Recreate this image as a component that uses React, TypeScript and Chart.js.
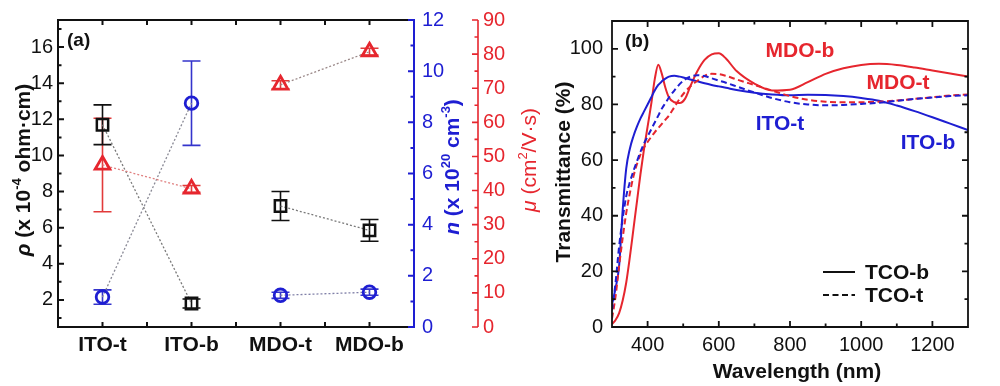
import React, { useEffect, useRef } from 'react';
import { Chart, registerables } from 'chart.js';
Chart.register(...registerables);

const FONT = "'Liberation Sans', Arial, Helvetica, sans-serif";
const BLUE = '#1e1ed2';
const RED = '#e6262e';

// ---------- Panel (a) data ----------
const categories = ['ITO-t', 'ITO-b', 'MDO-t', 'MDO-b'];
const resistivity = [11.7, 1.8, 7.2, 5.85];
const resistivityErr = [1.1, 0.25, 0.8, 0.6];
const carrierConc = [1.17, 8.75, 1.24, 1.36];
const carrierConcErr = [0.28, 1.65, 0.12, 0.12];
const mobility = [47.5, 40.5, 71, 80.7];
const mobilityErr = [13.7, 1.0, 1.2, 1.0];
const rhoTicks = [2, 4, 6, 8, 10, 12, 14, 16];
const nTicks = [0, 2, 4, 6, 8, 10, 12];
const muTicks = [0, 10, 20, 30, 40, 50, 60, 70, 80, 90];

// ---------- Panel (b) data ----------
const wavelengths = [300, 310, 320, 330, 340, 350, 360, 370, 380, 390, 400, 410, 420, 430, 440, 450, 460, 475, 490, 505, 520, 540, 560, 580, 600, 620, 650, 700, 750, 800, 850, 900, 950, 1000, 1050, 1100, 1150, 1200, 1250, 1300];
const itoB = [8, 14, 22, 42, 57, 64, 68.5, 72, 75, 77.5, 80, 82.5, 85, 87, 88.3, 89.3, 90, 90.3, 90, 89.5, 89, 88.3, 87.6, 87, 86.5, 86, 85.2, 84.2, 83.6, 83.3, 83.5, 83.4, 83, 82.3, 81.3, 79.6, 77.6, 75.4, 73.1, 70.8];
const mdoB = [1, 2.5, 5, 9.5, 16, 25, 35, 45, 55, 64, 72, 80, 89, 94.3, 91, 86, 82.5, 80.8, 80.5, 82, 86.5, 92, 96, 98, 98.4, 96.5, 92, 87.5, 85, 85.3, 88, 91, 93, 94.2, 94.6, 94.2, 93.3, 92.2, 91.1, 90];
const itoT = [6, 16, 29, 39, 47, 52, 56, 59.5, 63, 66, 68.5, 71, 73.5, 76, 78.5, 80.5, 82.5, 85, 87.3, 89, 90, 90.5, 90.2, 89.4, 88.6, 87.8, 86.5, 84.3, 82.3, 80.8, 80, 79.7, 79.8, 80.2, 80.6, 81.3, 82, 82.5, 83, 83.3];
const mdoT = [3, 11, 22, 32, 41, 48, 54, 58.5, 62, 64.5, 66.5, 68.3, 70, 71.5, 73, 74.5, 76, 79, 82, 84.5, 86.5, 88.5, 90.3, 91, 90.9, 90.3, 89, 87, 85, 83, 81.7, 81, 80.8, 80.8, 81, 81.4, 82, 82.6, 83.2, 83.6];
const wlTicks = [400, 600, 800, 1000, 1200];
const tTicks = [0, 20, 40, 60, 80, 100];

type Part = { t: string; sup?: boolean; italic?: boolean };

function drawRich(ctx: CanvasRenderingContext2D, parts: Part[], cx: number, cy: number, size: number, weight: string, color: string, rotate: boolean) {
  ctx.save();
  ctx.translate(cx, cy);
  if (rotate) ctx.rotate(-Math.PI / 2);
  const fontFor = (p: Part) => `${p.italic ? 'italic ' : ''}${weight} ${p.sup ? Math.round(size * 0.62) : size}px ${FONT}`;
  let total = 0;
  const widths = parts.map((p) => {
    ctx.font = fontFor(p);
    const w = ctx.measureText(p.t).width;
    total += w;
    return w;
  });
  let x = -total / 2;
  const base = size * 0.36;
  ctx.fillStyle = color;
  ctx.textBaseline = 'alphabetic';
  ctx.textAlign = 'left';
  parts.forEach((p, i) => {
    ctx.font = fontFor(p);
    ctx.fillText(p.t, x, p.sup ? base - size * 0.42 : base);
    x += widths[i];
  });
  ctx.restore();
}

function seg(ctx: CanvasRenderingContext2D, x1: number, y1: number, x2: number, y2: number) {
  ctx.moveTo(x1, y1);
  ctx.lineTo(x2, y2);
}

const panelAPlugin = {
  id: 'panelA',
  beforeDatasetsDraw(chart: any) {
    const ctx: CanvasRenderingContext2D = chart.ctx;
    const sx = chart.scales.x;
    const sets = [
      { v: mobility, e: mobilityErr, axis: 'yMu', color: '#e23a3a' },
      { v: carrierConc, e: carrierConcErr, axis: 'yN', color: '#3434cc' },
      { v: resistivity, e: resistivityErr, axis: 'y', color: '#111' },
    ];
    ctx.save();
    ctx.lineWidth = 1.6;
    sets.forEach((s) => {
      const sc = chart.scales[s.axis];
      ctx.strokeStyle = s.color;
      ctx.beginPath();
      s.v.forEach((v, i) => {
        const x = sx.getPixelForValue(i);
        const y1 = sc.getPixelForValue(v - s.e[i]);
        const y2 = sc.getPixelForValue(v + s.e[i]);
        seg(ctx, x, y1, x, y2);
        seg(ctx, x - 9, y1, x + 9, y1);
        seg(ctx, x - 9, y2, x + 9, y2);
      });
      ctx.stroke();
    });
    ctx.restore();
  },
  afterDraw(chart: any) {
    const ctx: CanvasRenderingContext2D = chart.ctx;
    const { left, right, top, bottom } = chart.chartArea;
    const sx = chart.scales.x;
    const sy = chart.scales.y;
    const sn = chart.scales.yN;
    const sm = chart.scales.yMu;
    ctx.save();
    ctx.lineCap = 'butt';
    ctx.strokeStyle = '#111';
    ctx.lineWidth = 2;
    ctx.beginPath();
    seg(ctx, left, bottom, left, top);
    seg(ctx, left - 1, top, right, top);
    seg(ctx, left - 1, bottom, right, bottom);
    for (let v = 1; v <= 17; v++) {
      const y = sy.getPixelForValue(v);
      seg(ctx, left, y, left + (v % 2 === 0 ? 6 : 3.5), y);
    }
    for (let i = 0; i < categories.length; i++) {
      const x = sx.getPixelForValue(i);
      seg(ctx, x, bottom, x, bottom - 5);
      seg(ctx, x, top, x, top + 5);
      if (i < categories.length - 1) {
        const xm = (x + sx.getPixelForValue(i + 1)) / 2;
        seg(ctx, xm, bottom, xm, bottom - 5);
        seg(ctx, xm, top, xm, top + 5);
      }
    }
    ctx.stroke();
    ctx.strokeStyle = BLUE;
    ctx.lineWidth = 2;
    ctx.beginPath();
    seg(ctx, right, top - 1, right, bottom + 1);
    for (let v = 0; v <= 12; v++) {
      const y = sn.getPixelForValue(v);
      seg(ctx, right, y, right - (v % 2 === 0 ? 6 : 3.5), y);
    }
    ctx.stroke();
    const rx = sm.left;
    ctx.strokeStyle = RED;
    ctx.lineWidth = 1.6;
    ctx.beginPath();
    seg(ctx, rx, top, rx, bottom);
    for (let v = 0; v <= 90; v += 5) {
      const y = sm.getPixelForValue(v);
      seg(ctx, rx, y, rx - (v % 10 === 0 ? 6 : 3.5), y);
    }
    ctx.stroke();
    ctx.restore();

    drawRich(ctx, [{ t: 'ρ', italic: true }, { t: ' (x 10' }, { t: '-4', sup: true }, { t: ' ohm·cm)' }], 22, 170, 21, 'bold', '#111', true);
    drawRich(ctx, [{ t: 'n', italic: true }, { t: ' (x 10' }, { t: '20', sup: true }, { t: ' cm' }, { t: '-3', sup: true }, { t: ')' }], 451, 167, 21, 'bold', BLUE, true);
    drawRich(ctx, [{ t: 'μ', italic: true }, { t: ' (cm' }, { t: '2', sup: true }, { t: '/V·s)' }], 528, 160, 21, 'normal', RED, true);

    ctx.save();
    ctx.font = `bold 19px ${FONT}`;
    ctx.fillStyle = '#111';
    ctx.textBaseline = 'middle';
    ctx.textAlign = 'left';
    ctx.fillText('(a)', 67, 41);
    ctx.restore();
  },
};

const panelBPlugin = {
  id: 'panelB',
  afterDraw(chart: any) {
    const ctx: CanvasRenderingContext2D = chart.ctx;
    const { left, right, top, bottom } = chart.chartArea;
    const sx = chart.scales.x;
    const sy = chart.scales.y;
    ctx.save();
    ctx.strokeStyle = '#111';
    ctx.lineWidth = 1.8;
    ctx.beginPath();
    ctx.rect(left, top, right - left, bottom - top);
    for (let v = 400; v <= 1200; v += 100) {
      const x = sx.getPixelForValue(v);
      const l = v % 200 === 0 ? 6 : 3.5;
      seg(ctx, x, bottom, x, bottom - l);
      seg(ctx, x, top, x, top + l);
    }
    for (let v = 10; v <= 100; v += 10) {
      const y = sy.getPixelForValue(v);
      const l = v % 20 === 0 ? 6 : 3.5;
      seg(ctx, left, y, left + l, y);
      seg(ctx, right, y, right - l, y);
    }
    ctx.stroke();

    ctx.lineWidth = 2;
    ctx.beginPath();
    seg(ctx, 278, 272, 310, 272);
    ctx.stroke();
    ctx.setLineDash([6, 3.5]);
    ctx.beginPath();
    seg(ctx, 278, 295, 310, 295);
    ctx.stroke();
    ctx.setLineDash([]);

    ctx.textBaseline = 'middle';
    ctx.textAlign = 'left';
    ctx.font = `bold 21px ${FONT}`;
    ctx.fillStyle = '#111';
    ctx.fillText('TCO-b', 320, 273);
    ctx.fillText('TCO-t', 320, 296);

    ctx.font = `bold 19px ${FONT}`;
    ctx.fillText('(b)', 80, 42);

    ctx.textAlign = 'center';
    ctx.font = `bold 21px ${FONT}`;
    ctx.fillStyle = RED;
    ctx.fillText('MDO-b', 255, 51);
    ctx.fillText('MDO-t', 353, 83);
    ctx.fillStyle = BLUE;
    ctx.fillText('ITO-t', 235, 124);
    ctx.fillText('ITO-b', 383, 143);

    ctx.fillStyle = '#111';
    ctx.fillText('Wavelength (nm)', 252, 372);
    ctx.restore();

    drawRich(ctx, [{ t: 'Transmittance (%)' }], 17, 172, 21, 'bold', '#111', true);
  },
};

function hideGrid() {
  return { display: false, drawTicks: false };
}

const plain = (v: any) => String(v);

export default function App() {
  const refA = useRef<HTMLCanvasElement>(null);
  const refB = useRef<HTMLCanvasElement>(null);

  useEffect(() => {
    const tickFont = { family: FONT, size: 20 };
    const chartA = new Chart(refA.current as HTMLCanvasElement, {
      type: 'line',
      data: {
        labels: categories,
        datasets: [
          {
            label: 'mu',
            data: mobility,
            yAxisID: 'yMu',
            borderColor: RED,
            borderWidth: 1.3,
            borderDash: [2, 2],
            pointStyle: 'triangle',
            pointRadius: 8.5,
            pointBorderWidth: 2.8,
            pointBorderColor: RED,
            pointBackgroundColor: 'rgba(255,255,255,0)',
            segment: {
              borderColor: (c: any) => (c.p0DataIndex === 1 ? 'rgba(0,0,0,0)' : c.p0DataIndex === 0 ? '#e08080' : '#9a8888'),
            },
          },
          {
            label: 'n',
            data: carrierConc,
            yAxisID: 'yN',
            borderColor: '#888',
            borderWidth: 1.3,
            borderDash: [2, 2],
            pointStyle: 'circle',
            pointRadius: 6.3,
            pointBorderWidth: 2.8,
            pointBorderColor: BLUE,
            pointBackgroundColor: 'rgba(255,255,255,0)',
            segment: {
              borderColor: (c: any) => (c.p0DataIndex === 1 ? 'rgba(0,0,0,0)' : c.p0DataIndex === 0 ? '#8a8a96' : '#8080a8'),
            },
          },
          {
            label: 'rho',
            data: resistivity,
            yAxisID: 'y',
            borderColor: '#7a7a7a',
            borderWidth: 1.3,
            borderDash: [2, 2],
            pointStyle: 'rect',
            pointRadius: 8,
            pointBorderWidth: 2.5,
            pointBorderColor: '#111',
            pointBackgroundColor: 'rgba(255,255,255,0)',
            segment: {
              borderColor: (c: any) => (c.p0DataIndex === 1 ? 'rgba(0,0,0,0)' : '#7a7a7a'),
            },
          },
        ],
      },
      options: {
        animation: false,
        responsive: false,
        devicePixelRatio: 1,
        events: [],
        layout: { padding: { top: 17, left: 0, right: 0, bottom: 0 } },
        plugins: { legend: { display: false }, tooltip: { enabled: false } },
        scales: {
          x: {
            type: 'category',
            offset: true,
            grid: hideGrid(),
            border: { display: false },
            ticks: { font: { family: FONT, size: 21, weight: 'bold' }, color: '#111', padding: 6, maxRotation: 0, autoSkip: false },
            afterFit: (s: any) => { s.height = 59; },
          },
          y: {
            position: 'left',
            min: 0.5,
            max: 17.5,
            grid: hideGrid(),
            border: { display: false },
            ticks: { font: tickFont, color: '#111', padding: 5, callback: plain },
            afterBuildTicks: (s: any) => { s.ticks = rhoTicks.map((v) => ({ value: v })); },
            afterFit: (s: any) => { s.width = 58; },
          },
          yN: {
            position: 'right',
            weight: 1,
            min: 0,
            max: 12,
            grid: hideGrid(),
            border: { display: false },
            ticks: { font: tickFont, color: BLUE, padding: 8, callback: plain },
            afterBuildTicks: (s: any) => { s.ticks = nTicks.map((v) => ({ value: v })); },
            afterFit: (s: any) => { s.width = 64; },
          },
          yMu: {
            position: 'right',
            weight: 2,
            min: 0,
            max: 90,
            grid: hideGrid(),
            border: { display: false },
            ticks: { font: tickFont, color: RED, padding: 5, callback: plain },
            afterBuildTicks: (s: any) => { s.ticks = muTicks.map((v) => ({ value: v })); },
            afterFit: (s: any) => { s.width = 67; },
          },
        },
      } as any,
      plugins: [panelAPlugin],
    });

    const mk = (vals: number[]) => wavelengths.map((w, i) => ({ x: w, y: vals[i] }));
    const chartB = new Chart(refB.current as HTMLCanvasElement, {
      type: 'line',
      data: {
        datasets: [
          { label: 'ITO-t', data: mk(itoT), borderColor: BLUE, borderWidth: 2, borderDash: [6, 3.5], pointRadius: 0, cubicInterpolationMode: 'monotone' },
          { label: 'MDO-t', data: mk(mdoT), borderColor: RED, borderWidth: 2, borderDash: [6, 3.5], pointRadius: 0, cubicInterpolationMode: 'monotone' },
          { label: 'ITO-b', data: mk(itoB), borderColor: BLUE, borderWidth: 2, pointRadius: 0, cubicInterpolationMode: 'monotone' },
          { label: 'MDO-b', data: mk(mdoB), borderColor: RED, borderWidth: 2, pointRadius: 0, cubicInterpolationMode: 'monotone' },
        ],
      },
      options: {
        animation: false,
        responsive: false,
        devicePixelRatio: 1,
        events: [],
        layout: { padding: { top: 17, left: 0, right: 32, bottom: 0 } },
        plugins: { legend: { display: false }, tooltip: { enabled: false } },
        scales: {
          x: {
            type: 'linear',
            min: 300,
            max: 1300,
            grid: hideGrid(),
            border: { display: false },
            ticks: { font: tickFont, color: '#111', padding: 6, maxRotation: 0, callback: plain },
            afterBuildTicks: (s: any) => { s.ticks = wlTicks.map((v) => ({ value: v })); },
            afterFit: (s: any) => { s.height = 59; },
          },
          y: {
            type: 'linear',
            min: 0,
            max: 110,
            grid: hideGrid(),
            border: { display: false },
            ticks: { font: tickFont, color: '#111', padding: 9, callback: plain },
            afterBuildTicks: (s: any) => { s.ticks = tTicks.map((v) => ({ value: v })); },
            afterFit: (s: any) => { s.width = 67; },
          },
        },
      } as any,
      plugins: [panelBPlugin],
    });

    return () => {
      chartA.destroy();
      chartB.destroy();
    };
  }, []);

  return (
    <div style={{ position: 'fixed', left: 0, top: 0, width: 1000, height: 386, background: '#fff', overflow: 'hidden' }}>
      <canvas ref={refA} width={545} height={386} style={{ position: 'absolute', left: 0, top: 0, width: 545, height: 386 }} />
      <canvas ref={refB} width={455} height={386} style={{ position: 'absolute', left: 545, top: 0, width: 455, height: 386 }} />
    </div>
  );
}
